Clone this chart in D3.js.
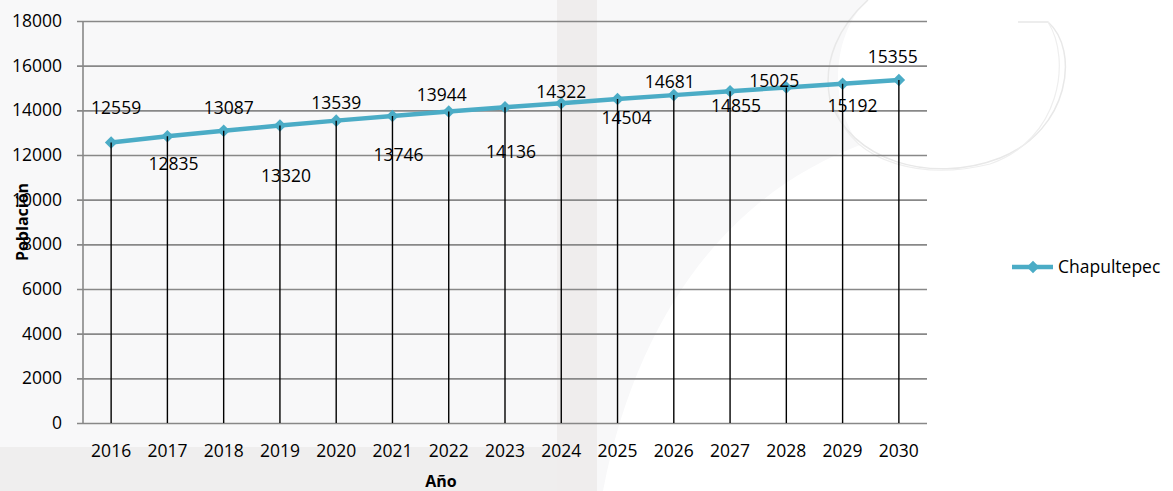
<!DOCTYPE html>
<html>
<head>
<meta charset="utf-8">
<script src="https://cdn.jsdelivr.net/npm/d3@7"></script>
<style>
  body { margin: 0; background: #fff; }
  svg { display: block; font-family: "Open Sans", sans-serif; }
</style>
</head>
<body>
<svg id="chart" width="1173" height="491"></svg>
<script>
// data
const years = ["2016","2017","2018","2019","2020","2021","2022","2023","2024","2025","2026","2027","2028","2029","2030"];
const poblacion = [12559,12835,13087,13320,13539,13746,13944,14136,14322,14504,14681,14855,15025,15192,15355];
const yTicks = [0,2000,4000,6000,8000,10000,12000,14000,16000,18000];
const seriesName = "Chapultepec";

// label nudges (the original labels were placed by hand), in px from the marker
const labelDx = [5, 6, 5, 6, 0, 6, -7, 6, 0, 9, -4, 6, -12, 10, -6];
const labelDy = [-35, 27, -23, 50, -18, 39, -17, 44, -11, 19, -13, 14, -7, 22, -23];

const W = 1173, H = 491;
const plot = {left: 83, right: 927, top: 21, bottom: 423};
const lineColor = "#4BACC6";
const gridColor = "#888888";
const fontFamily = "Open Sans";
const fontSize = 17.5;

const svg = d3.select("#chart");

//Background watermark shapes
const bg = svg.append("g");
bg.append("rect").attr("width", W).attr("height", H).attr("fill", "#ffffff");
bg.append("path")
  .attr("d", "M0,0 L868,0 C835,30 825,100 860,145 C740,190 640,300 603,491 L0,491 Z")
  .attr("fill", "#f8f8f9");
bg.append("rect").attr("x", 0).attr("y", 447).attr("width", 597).attr("height", H - 447).attr("fill", "#efeeee");
bg.append("rect").attr("x", 557).attr("y", 0).attr("width", 40).attr("height", H).attr("fill", "#efeded");
bg.append("path")
  .attr("d", "M1018,22 L1048,22 C1080,50 1070,130 1000,158 C930,185 850,160 830,100 C822,60 840,25 868,0")
  .attr("fill", "none").attr("stroke", "#e8e8e8").attr("stroke-width", 1.5);
bg.append("path")
  .attr("d", "M1048,22 C1072,60 1060,140 990,164 C925,180 855,165 836,110")
  .attr("fill", "none").attr("stroke", "#eeeeee").attr("stroke-width", 1.2);

const x = d3.scaleBand().domain(years).range([plot.left, plot.right]).padding(0);
const y = d3.scaleLinear().domain([0, 18000]).range([plot.bottom, plot.top]);
const cx = d => x(d) + x.bandwidth() / 2;

//Gridlines (with the little tick stubs on the left)
const grid = svg.append("g")
  .attr("transform", `translate(${plot.left - 6},0)`)
  .call(d3.axisLeft(y).tickValues(yTicks).tickSize(-(plot.right - plot.left + 6)).tickFormat(""));
grid.select(".domain").remove();
grid.selectAll("line").attr("stroke", gridColor).attr("stroke-width", 1.6);

//Y axis line
svg.append("line")
  .attr("x1", plot.left).attr("x2", plot.left).attr("y1", plot.top).attr("y2", plot.bottom)
  .attr("stroke", gridColor).attr("stroke-width", 1.6);

//Y tick labels
const yAxis = svg.append("g")
  .attr("transform", `translate(${plot.left - 6},0)`)
  .call(d3.axisLeft(y).tickValues(yTicks).tickFormat(d3.format("d")).tickSize(0).tickPadding(15));
yAxis.select(".domain").remove();
yAxis.attr("font-family", fontFamily).attr("font-size", fontSize);
yAxis.selectAll("text").attr("fill", "#000");

//X tick labels
const xAxis = svg.append("g")
  .attr("transform", `translate(0,${plot.bottom})`)
  .call(d3.axisBottom(x).tickSize(0).tickPadding(22));
xAxis.select(".domain").remove();
xAxis.attr("font-family", fontFamily).attr("font-size", fontSize);
xAxis.selectAll("text").attr("fill", "#000");

//Series line
const line = d3.line().x((d, i) => cx(years[i])).y(d => y(d));
svg.append("path")
  .datum(poblacion)
  .attr("d", line)
  .attr("fill", "none")
  .attr("stroke", lineColor)
  .attr("stroke-width", 4.5)
  .attr("stroke-linejoin", "round");

//Diamond markers
const diamond = d3.symbol().type(d3.symbolDiamond2).size(100);
svg.append("g").selectAll("path")
  .data(poblacion)
  .join("path")
  .attr("d", diamond)
  .attr("transform", (d, i) => `translate(${cx(years[i])},${y(d)})`)
  .attr("fill", lineColor);

//Drop lines
svg.append("g").selectAll("line")
  .data(poblacion)
  .join("line")
  .attr("x1", (d, i) => cx(years[i])).attr("x2", (d, i) => cx(years[i]))
  .attr("y1", d => y(d)).attr("y2", plot.bottom)
  .attr("stroke", "#000").attr("stroke-width", 1.4);

//Data labels
svg.append("g").selectAll("text")
  .data(poblacion)
  .join("text")
  .attr("x", (d, i) => cx(years[i]) + labelDx[i])
  .attr("y", (d, i) => y(d) + labelDy[i])
  .attr("dy", "0.36em")
  .attr("text-anchor", "middle")
  .attr("font-size", fontSize)
  .attr("fill", "#000")
  .text(d => d);

//Axis titles
svg.append("text")
  .attr("transform", "translate(22,222) rotate(-90)")
  .attr("dy", "0.36em")
  .attr("text-anchor", "middle")
  .attr("font-size", 16).attr("font-weight", "bold")
  .text("Población");
svg.append("text")
  .attr("x", 441).attr("y", 487)
  .attr("text-anchor", "middle")
  .attr("font-size", 16).attr("font-weight", "bold")
  .text("Año");

//Legend
const lg = svg.append("g").attr("transform", "translate(1012,267)");
lg.append("line").attr("x1", 0).attr("x2", 41).attr("stroke", lineColor).attr("stroke-width", 4.5);
lg.append("path").attr("d", diamond).attr("transform", "translate(21,0)").attr("fill", lineColor);
lg.append("text").attr("x", 46).attr("dy", "0.36em").attr("font-size", fontSize).text(seriesName);
</script>
</body>
</html>
